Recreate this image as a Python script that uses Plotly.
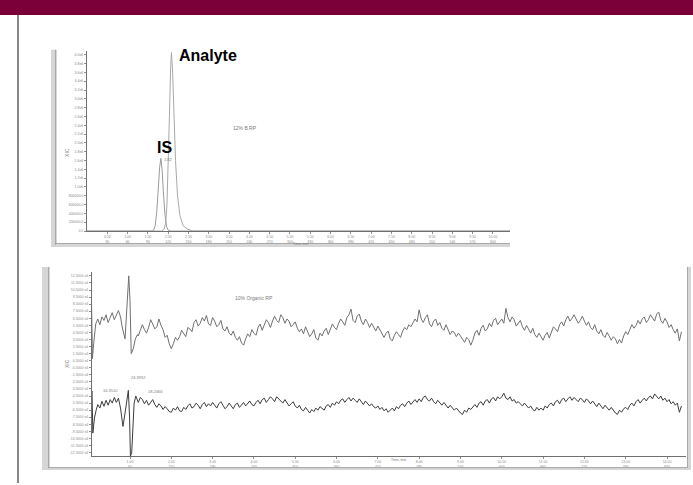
import numpy as np
import plotly.graph_objects as go

W, H = 693, 485

# ---------------- top chromatogram (intensity in 1e6 cps) ----------------
is_time = [0.0, 1.60, 1.64, 1.68, 1.72, 1.76, 1.79, 1.82, 1.85, 1.88, 1.92, 1.96, 2.00, 2.06, 10.42]
is_int = [0, 0, 0.02, 0.12, 0.45, 1.05, 1.45, 1.65, 1.40, 0.90, 0.38, 0.10, 0.02, 0, 0]
an_time = [0.0, 1.84, 1.90, 1.94, 1.97, 2.00, 2.03, 2.06, 2.08, 2.11, 2.14, 2.18, 2.23, 2.29, 2.37, 2.48, 2.62, 10.42]
an_int = [0, 0, 0.04, 0.20, 0.60, 1.40, 2.60, 3.70, 4.05, 3.60, 2.70, 1.60, 0.80, 0.35, 0.12, 0.04, 0, 0]

top_xticks = [0.5 * k for k in range(1, 21)]
top_xlabels = [f"{t:.2f}<br>{int(t * 60)}" for t in top_xticks]
top_yticks = [round(0.2 * k, 1) for k in range(0, 21)]
top_ylabels = ["0.0"] + [f"{int(v * 1e6)}.0" for v in top_yticks[1:5]] + [f"{v:.1f}e6" for v in top_yticks[5:]]

# ---------------- bottom chromatogram (signal, e4) ----------------
spike_t = [0.06, 0.09, 0.12, 0.17, 0.22, 0.27, 0.32, 0.37, 0.42, 0.47, 0.52, 0.57, 0.62, 0.67,
           0.72, 0.77, 0.82, 0.88, 0.93, 0.97, 1.00, 1.03, 1.08, 1.13, 1.18]
upper_spike = [12.3, 0.8, 2.9, 5.7, 6.4, 5.6, 6.7, 6.2, 7.0, 5.9, 6.6, 7.3, 6.3, 6.9,
               7.6, 6.7, 5.0, 3.6, 9.3, 12.5, 9.0, 1.5, 2.2, 3.6, 4.2]
lower_spike_t = [0.06, 0.08, 0.10, 0.14, 0.18, 0.22, 0.27, 0.32, 0.37, 0.42, 0.47, 0.52, 0.57,
                 0.62, 0.67, 0.72, 0.77, 0.83, 0.88, 0.93, 0.96, 0.99, 1.01, 1.04, 1.07,
                 1.10, 1.14, 1.18]
lower_spike = [-4.4, -3.8, -9.75, -7.6, -6.5, -5.7, -6.2, -5.25, -5.95, -5.1, -5.8, -5.0, -5.5,
               -4.7, -5.4, -4.8, -6.2, -8.8, -6.9, -4.8, -3.7, -7.6, -13.0, -12.6, -7.6,
               -5.5, -4.5, -5.1]

# baseline noise sampled every 0.05 min from 1.20 min
upper_noise = [
    4.0, 4.8, 5.6, 4.9, 4.4, 5.2, 6.3, 5.7, 5.0, 5.3, 6.4, 5.5, 4.9, 3.8, 4.1, 2.9,
    2.2, 2.9, 3.8, 3.4, 3.9, 4.8, 4.3, 3.9, 5.2, 5.0, 4.6, 5.9, 6.3, 5.4, 5.8, 6.6, 6.1, 6.9, 5.7, 5.5,
    6.6, 6.1, 5.3, 5.6, 6.2, 5.0, 4.7, 5.3, 4.4, 4.1, 4.7, 3.8, 3.4, 3.9, 3.0, 2.7, 3.6, 4.3, 3.9, 4.9,
    4.4, 4.1, 5.2, 5.7, 4.8, 5.5, 6.3, 5.9, 5.2, 6.1, 6.8, 6.2, 5.9, 7.0, 6.6, 5.8, 6.4, 6.1, 5.3, 5.6,
    6.0, 5.1, 4.6, 5.0, 4.3, 5.3, 4.6, 3.9, 4.3, 4.9, 3.7, 3.4, 4.4, 4.0, 4.7, 5.1, 4.2, 4.9, 5.7, 5.2,
    4.9, 5.8, 6.4, 6.0, 5.5, 6.6, 7.0, 7.8, 6.2, 5.9, 6.8, 7.1, 6.1, 5.6, 6.4, 5.9, 5.2, 5.8, 5.3, 4.7,
    5.4, 4.9, 4.3, 3.8, 4.4, 4.7, 3.6, 3.3, 4.1, 4.6, 4.2, 3.8, 4.7, 5.2, 4.9, 5.6, 5.3, 5.9, 6.4, 6.0,
    7.7, 6.4, 5.9, 6.6, 7.0, 5.7, 5.3, 6.1, 6.4, 5.5, 5.9, 5.1, 4.8, 5.6, 5.0, 4.2, 4.7, 4.5, 3.9, 4.4,
    4.0, 3.5, 3.1, 3.8, 3.5, 2.7, 3.4, 4.4, 4.8, 4.1, 5.1, 5.5, 4.7, 5.0, 5.8, 5.3, 6.2, 6.5, 5.6, 6.0,
    6.4, 5.8, 7.9, 6.6, 6.0, 6.7, 6.3, 5.4, 5.8, 6.2, 5.3, 4.8, 5.5, 5.0, 4.4, 5.1, 4.2, 3.8, 4.4, 3.9,
    3.4, 4.1, 4.5, 3.7, 4.6, 5.3, 5.0, 4.6, 5.6, 6.0, 5.4, 6.3, 6.8, 6.1, 6.5, 7.0, 6.4, 5.8, 6.2, 6.8,
    6.1, 5.5, 6.0, 5.2, 4.9, 5.6, 4.7, 4.3, 4.9, 4.1, 3.8, 4.5, 4.0, 3.4, 3.9, 3.6, 2.9, 3.5, 3.0, 4.0,
    4.6, 4.2, 4.9, 5.6, 5.1, 5.5, 6.2, 5.7, 6.4, 6.7, 5.9, 6.3, 7.0, 6.6, 6.1, 7.1, 7.4, 6.2, 5.8, 6.5,
    6.0, 5.2, 5.6, 4.9, 4.4, 5.0, 3.3, 4.6,
]
lower_noise = [
    -5.4, -4.7, -5.0, -5.6, -5.1, -5.8, -5.3, -5.0, -5.7, -6.1, -5.6, -5.9, -6.4, -6.0, -6.3, -6.7,
    -6.8, -6.2, -6.5, -6.0, -6.6, -6.7, -6.1, -6.4, -5.9, -5.6, -6.2, -6.0, -5.5, -5.8, -6.3, -5.7, -5.4, -6.0, -5.6, -5.9,
    -5.4, -5.9, -6.2, -5.6, -5.3, -5.8, -6.3, -6.0, -5.5, -5.9, -6.3, -5.7, -5.5, -6.1, -5.8, -5.4, -5.9, -5.6, -5.2, -5.7,
    -5.9, -5.4, -5.1, -5.6, -5.0, -4.8, -5.4, -5.0, -4.6, -4.9, -5.3, -4.6, -4.9, -5.2, -5.5, -5.0, -5.4, -5.9, -5.6, -5.3,
    -5.9, -6.2, -5.8, -6.4, -6.6, -6.1, -6.5, -6.9, -6.4, -6.7, -6.2, -6.5, -6.0, -6.3, -6.5, -5.9, -5.7, -6.1, -5.5, -5.8,
    -5.3, -5.6, -5.1, -4.9, -5.4, -5.0, -4.7, -5.2, -4.8, -5.1, -5.4, -4.9, -5.3, -5.7, -5.2, -5.5, -5.9, -5.6, -6.0, -6.2,
    -5.9, -6.4, -6.1, -6.6, -6.3, -6.8, -6.5, -6.2, -6.6, -6.0, -6.3, -5.8, -5.6, -6.0, -5.5, -5.2, -5.7, -5.3, -5.0, -5.4,
    -4.9, -5.3, -4.7, -4.5, -5.0, -5.2, -4.8, -5.3, -5.6, -5.1, -5.5, -5.8, -5.4, -5.9, -6.2, -5.8, -6.1, -6.5, -6.2, -6.6,
    -6.9, -7.1, -6.5, -6.8, -6.2, -6.4, -6.0, -5.7, -6.1, -5.5, -5.3, -5.8, -5.2, -5.0, -5.5, -4.9, -4.7, -5.2, -4.6, -4.9,
    -4.6, -4.1, -4.8, -5.0, -4.6, -5.2, -5.0, -5.5, -5.3, -5.6, -5.9, -5.5, -5.8, -6.2, -5.9, -6.4, -6.6, -6.1, -6.5, -6.2,
    -6.5, -5.9, -6.2, -5.7, -5.5, -5.9, -5.3, -5.1, -5.6, -5.0, -4.8, -5.3, -4.9, -4.6, -5.1, -4.7, -5.0, -5.3, -4.8, -5.0,
    -5.4, -4.9, -5.2, -5.6, -5.2, -5.7, -6.0, -5.5, -5.9, -6.3, -5.8, -6.2, -6.5, -6.1, -6.6, -6.9, -7.1, -6.5, -6.8, -6.3,
    -6.1, -6.4, -5.8, -5.5, -5.9, -5.3, -5.0, -5.5, -5.1, -4.8, -5.2, -4.7, -4.5, -4.9, -4.2, -4.6, -4.9, -4.5, -5.1, -4.8,
    -5.3, -5.0, -5.6, -5.3, -5.8, -5.5, -6.8, -5.9,
]
noise_start, noise_step = 1.2, 0.05

bot_xticks = list(range(1, 15))
bot_xlabels = [f"{t:.2f}<br>{t * 60}" for t in bot_xticks]
bot_yticks = [12.5 - k for k in range(0, 26)]
bot_ylabels = [f"{v:.4f} e4" for v in bot_yticks]

# ---------------- figure ----------------
def fx(x):
    return x / W


def fy(y):
    return 1 - y / H


upper_t = spike_t + list(np.round(noise_start + noise_step * np.arange(len(upper_noise)), 3))
lower_t = lower_spike_t + list(np.round(noise_start + noise_step * np.arange(len(lower_noise)), 3))

fig = go.Figure()
fig.add_trace(go.Scatter(x=is_time, y=is_int, mode="lines", line=dict(color="#9a9a9a", width=1),
                         xaxis="x", yaxis="y", hoverinfo="skip"))
fig.add_trace(go.Scatter(x=an_time, y=an_int, mode="lines", line=dict(color="#a8a8a8", width=1),
                         xaxis="x", yaxis="y", hoverinfo="skip"))
fig.add_trace(go.Scatter(x=upper_t, y=upper_spike + upper_noise, mode="lines",
                         line=dict(color="#707070", width=1), xaxis="x2", yaxis="y2", hoverinfo="skip"))
fig.add_trace(go.Scatter(x=lower_t, y=lower_spike + lower_noise, mode="lines",
                         line=dict(color="#3c3c3c", width=1), xaxis="x2", yaxis="y2", hoverinfo="skip"))

tick_font = dict(family="Arial, Liberation Sans", size=3.5, color="#8a8a8a")
axis_common = dict(showgrid=False, zeroline=False, showline=True, linecolor="#707070", linewidth=1,
                   ticks="outside", ticklen=2, tickcolor="#909090", tickfont=tick_font)

fig.update_layout(
    width=W, height=H, margin=dict(l=0, r=0, t=0, b=0),
    paper_bgcolor="white", plot_bgcolor="white", showlegend=False,
    xaxis=dict(domain=[fx(87), fx(510)], range=[0, 10.42], anchor="y",
               tickvals=top_xticks, ticktext=top_xlabels, **axis_common),
    yaxis=dict(domain=[fy(232), fy(51)], range=[0, 4.09], anchor="x",
               tickvals=top_yticks, ticktext=top_ylabels, **axis_common),
    xaxis2=dict(domain=[fx(92), fx(686)], range=[0.08, 14.46], anchor="y2",
                tickvals=bot_xticks, ticktext=bot_xlabels, **axis_common),
    yaxis2=dict(domain=[fy(458), fy(273.5)], range=[-13, 13], anchor="x2",
                tickvals=bot_yticks, ticktext=bot_ylabels, **axis_common),
)

shapes = [
    # header bar
    dict(type="rect", xref="paper", yref="paper", x0=0, x1=1, y0=fy(15), y1=1,
         fillcolor="#7b0039", line=dict(width=0), layer="above"),
    # left black rule
    dict(type="line", xref="paper", yref="paper", x0=fx(18), x1=fx(18), y0=fy(15), y1=0,
         line=dict(color="#111111", width=1)),
    # top panel frame
    dict(type="rect", xref="paper", yref="paper", x0=fx(51), x1=fx(57), y0=fy(247), y1=fy(50),
         fillcolor="#d6d6d6", line=dict(width=0), layer="below"),
    dict(type="line", xref="paper", yref="paper", x0=fx(55.5), x1=fx(55.5), y0=fy(246), y1=fy(50),
         line=dict(color="#a8a8a8", width=1)),
    dict(type="rect", xref="paper", yref="paper", x0=fx(51), x1=fx(510), y0=fy(248), y1=fy(244),
         fillcolor="#d6d6d6", line=dict(width=0), layer="below"),
    dict(type="line", xref="paper", yref="paper", x0=fx(55), x1=fx(510), y0=fy(244.5), y1=fy(244.5),
         line=dict(color="#a8a8a8", width=1)),
    # bottom panel frame
    dict(type="rect", xref="paper", yref="paper", x0=fx(42), x1=fx(50), y0=fy(472), y1=fy(268),
         fillcolor="#d6d6d6", line=dict(width=0), layer="below"),
    dict(type="line", xref="paper", yref="paper", x0=fx(48.5), x1=fx(48.5), y0=fy(470), y1=fy(268),
         line=dict(color="#a8a8a8", width=1)),
    dict(type="rect", xref="paper", yref="paper", x0=fx(42), x1=fx(691), y0=fy(472), y1=fy(469),
         fillcolor="#d6d6d6", line=dict(width=0), layer="below"),
    dict(type="line", xref="paper", yref="paper", x0=fx(48), x1=fx(688), y0=fy(469.5), y1=fy(469.5),
         line=dict(color="#a8a8a8", width=1)),
    dict(type="rect", xref="paper", yref="paper", x0=fx(687), x1=fx(691), y0=fy(472), y1=fy(268),
         fillcolor="#d6d6d6", line=dict(width=0), layer="below"),
    dict(type="line", xref="paper", yref="paper", x0=fx(687.5), x1=fx(687.5), y0=fy(469), y1=fy(268),
         line=dict(color="#a8a8a8", width=1)),
]
fig.update_layout(shapes=shapes)

small = dict(family="Arial, Liberation Sans", size=5, color="#7a7a7a")
tiny = dict(family="Arial, Liberation Sans", size=4, color="#7a7a7a")
ann = [
    dict(text="<b>Analyte</b>", x=fx(177), y=fy(45), xref="paper", yref="paper", showarrow=False,
         font=dict(family="Arial, Liberation Sans", size=16, color="black")),
    dict(text="<b>IS</b>", x=fx(155), y=fy(138), xref="paper", yref="paper", showarrow=False,
         font=dict(family="Arial, Liberation Sans", size=16, color="black")),
    dict(text="12% B RP", x=fx(245), y=fy(124), xref="paper", yref="paper", showarrow=False, font=small),
    dict(text="10% Organic RP", x=fx(254), y=fy(299), xref="paper", yref="paper", showarrow=False, font=small),
    dict(text="Time, min", x=fx(300), y=fy(245), xref="paper", yref="paper", showarrow=False,
         font=dict(family="Arial, Liberation Sans", size=3.5, color="#7a7a7a")),
    dict(text="Time, min", x=fx(398), y=fy(466), xref="paper", yref="paper", showarrow=False,
         font=dict(family="Arial, Liberation Sans", size=3.5, color="#7a7a7a")),
    dict(text="XIC", x=fx(62), y=fy(147), xref="paper", yref="paper", showarrow=False, textangle=-90, font=small),
    dict(text="XIC", x=fx(62), y=fy(372), xref="paper", yref="paper", showarrow=False, textangle=-90, font=small),
    dict(text="1.82", x=fx(162), y=fy(156), xref="paper", yref="paper", showarrow=False, font=tiny),
    dict(text="16.3510", x=fx(101), y=fy(397), xref="paper", yref="paper", showarrow=False, font=tiny),
    dict(text="24.3992", x=fx(129), y=fy(384), xref="paper", yref="paper", showarrow=False, font=tiny),
    dict(text="18.2466", x=fx(146), y=fy(398), xref="paper", yref="paper", showarrow=False, font=tiny),
]
fig.update_layout(annotations=ann)

fig.write_html("out.html", config={"displayModeBar": False},
               post_script="document.body.style.margin='0';document.body.style.overflow='hidden';")
